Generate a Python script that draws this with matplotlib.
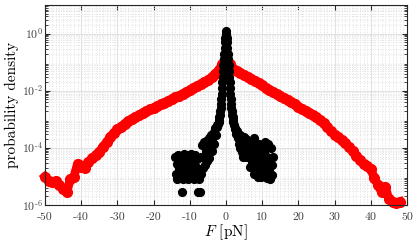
import numpy as np
import matplotlib
matplotlib.use("Agg")
import matplotlib.pyplot as plt
from matplotlib.ticker import FixedLocator, MultipleLocator, LogLocator, NullFormatter

plt.rcParams['font.family'] = ['cmr10', 'DejaVu Serif']
plt.rcParams['mathtext.fontset'] = 'cm'
plt.rcParams['axes.unicode_minus'] = False

# ---- red series: log10 of probability density, 1 pN bins
red_F = list(range(-50, 49))
red_log = [
    -5.00, -5.15, -5.20, -5.15, -5.30, -5.45, -5.55, -5.10, -5.00, -4.55,   # -50..-41
    -4.65, -4.70, -4.50, -4.36, -4.25, -4.15, -3.95, -3.80, -3.62, -3.47,   # -40..-31
    -3.35, -3.25, -3.15, -3.06, -2.98, -2.91, -2.84, -2.77, -2.71, -2.65,   # -30..-21
    -2.59, -2.53, -2.47, -2.41, -2.35, -2.29, -2.23, -2.17, -2.11, -2.05,   # -20..-11
    -1.98, -1.91, -1.84, -1.77, -1.70, -1.62, -1.53, -1.42, -1.27, -1.07,   # -10..-1
    -0.82,                                                                  # 0
    -1.07, -1.22, -1.30, -1.38, -1.45, -1.52, -1.60, -1.67, -1.74, -1.81,   # 1..10
    -1.89, -1.96, -2.03, -2.10, -2.18, -2.25, -2.32, -2.40, -2.47, -2.55,   # 11..20
    -2.62, -2.69, -2.76, -2.85, -2.93, -3.02, -3.12, -3.25, -3.40, -3.53,   # 21..30
    -3.63, -3.73, -3.83, -3.97, -4.12, -4.28, -4.42, -4.55, -4.62, -4.75,   # 31..40
    -5.05, -5.30, -5.55, -5.35, -5.80, -5.90, -5.92, -5.88,                 # 41..48
]

# ---- black series, piecewise bins
black_left_F = [-14.0 + 0.2 * i for i in range(37)]          # -14.0 .. -6.8
black_left_log = [
    -4.30, -4.90, -4.55, -5.10, -4.25, -4.75, -5.05, -4.40, -4.90, -5.55,
    -4.60, -5.10, -4.20, -4.80, -4.45, -5.05, -4.25, -4.70, -5.10, -4.40,
    -4.90, -4.20, -4.60, -5.05, -4.35, -4.80, -5.10, -4.25, -4.65, -4.95,
    -4.40, -5.55, -4.80, -5.10, -5.55, -4.30, -4.90,
]
black_lshoulder_F = [-6.6 + 0.2 * i for i in range(23)]      # -6.6 .. -2.2
black_lshoulder_log = [
    -3.90, -4.70, -4.30, -3.80, -4.60, -4.10, -3.75, -4.45, -4.00, -3.65,
    -4.35, -3.90, -3.55, -4.10, -3.75, -3.50, -3.85, -3.45, -3.30, -3.55,
    -3.25, -3.20, -3.15,
]
black_center_F = [-2.0 + 0.1 * i for i in range(41)]         # -2.0 .. 2.0
black_center_log = [
    -3.10, -3.02, -2.93, -2.83, -2.72, -2.60, -2.45, -2.30, -2.10, -1.90,
    -1.70, -1.50, -1.30, -1.10, -0.90, -0.70, -0.50, -0.30, -0.15, 0.00,
    0.08,
    0.00, -0.15, -0.30, -0.50, -0.70, -0.90, -1.10, -1.30, -1.50, -1.70,
    -1.90, -2.10, -2.30, -2.45, -2.60, -2.72, -2.83, -2.93, -3.02, -3.10,
]
black_right_F = [2.2 + 0.2 * i for i in range(55)]           # 2.2 .. 13.0
black_right_log = [
    -3.20, -3.35, -3.30, -3.50, -3.40, -3.65, -3.50, -3.85, -3.55, -4.00,
    -3.60, -4.15, -3.80, -4.30, -3.60, -4.00, -4.30, -3.70, -4.10, -3.90,
    -4.30, -3.75, -4.66, -4.05,
    -3.80, -4.50, -4.15, -4.90, -3.65, -4.35, -4.75, -3.90, -4.55, -5.00,
    -4.10, -3.85, -4.70, -4.30, -5.00, -3.95, -4.50, -4.85, -4.15, -3.80,
    -4.65, -5.05, -4.30, -3.85, -4.80, -4.45, -5.10, -4.00, -4.60, -4.95,
    -4.30,
]
black_F = black_left_F + black_lshoulder_F + black_center_F + black_right_F
black_log = black_left_log + black_lshoulder_log + black_center_log + black_right_log

x_ticks = [-50, -40, -30, -20, -10, 0, 10, 20, 30, 40, 50]
x_tick_labels = ['-50', '-40', '-30', '-20', '-10', '0', '10', '20', '30', '40', '50']
y_ticks = [1e-6, 1e-4, 1e-2, 1e0]
y_tick_labels = [r'$10^{\text{-}6}$', r'$10^{\text{-}4}$', r'$10^{\text{-}2}$', r'$10^{0}$']

fig = plt.figure(figsize=(4.15, 2.43), dpi=100)
ax = fig.add_axes([0.1084, 0.156, 0.8723, 0.823])

gridc = '#e2e2e2'
ax.grid(True, which='major', color=gridc, linestyle='-', linewidth=0.8)
ax.grid(True, which='minor', color=gridc, linestyle=':', linewidth=0.7)
ax.set_axisbelow(True)

ax.plot(red_F, 10.0 ** np.array(red_log), '-o', color=(1, 0, 0), lw=6.3, ms=7,
        mec=(1, 0, 0), mfc=(1, 0, 0), zorder=3, clip_on=False)
ax.plot(black_F, 10.0 ** np.array(black_log), 'o', color='k', ms=5.6,
        mec='k', mfc='k', zorder=4)

ax.set_yscale('log')
ax.set_xlim(-50, 50)
ax.set_ylim(1e-6, 10)

ax.xaxis.set_major_locator(FixedLocator(x_ticks))
ax.set_xticklabels(x_tick_labels)
ax.xaxis.set_minor_locator(MultipleLocator(1))
ax.yaxis.set_major_locator(FixedLocator(y_ticks))
ax.set_yticklabels(y_tick_labels)
ax.yaxis.set_minor_locator(LogLocator(base=10, subs=np.arange(2, 10), numticks=20))
ax.yaxis.set_minor_formatter(NullFormatter())

spc = '#262626'
for s in ax.spines.values():
    s.set_color(spc)
    s.set_linewidth(0.8)
    s.set_zorder(5)
ax.tick_params(which='both', direction='in', top=True, right=True, colors=spc,
               labelsize=8.5, labelcolor='#404040')
ax.tick_params(which='major', length=3.5)
ax.tick_params(axis='y', which='minor', length=2)
ax.tick_params(axis='x', which='minor', length=0)
ax.tick_params(axis='y', which='major', pad=1.5)
ax.tick_params(axis='x', which='major', pad=5)
for lbl in ax.get_yticklabels():
    lbl.set_verticalalignment('center')

ax.set_xlabel(r'$F$ [pN]', fontsize=11, labelpad=0.5)
ax.set_ylabel('probability density', fontsize=11)
ax.yaxis.set_label_coords(-0.073, 0.5)

fig.savefig('out.png', dpi=100)
